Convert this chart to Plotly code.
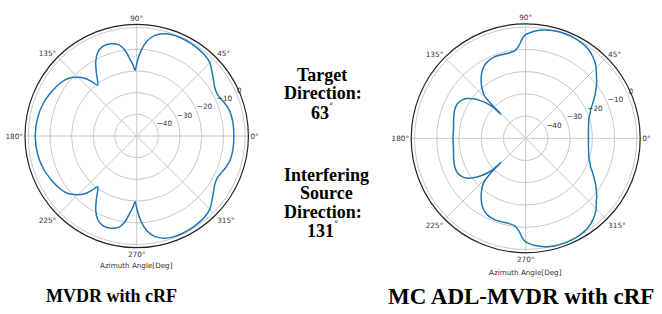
import plotly.graph_objects as go

W, H = 662, 314

# ---- MVDR with cRF (left) ----
theta_mvdr = [0, 8, 15, 20, 24, 28, 32, 36, 40, 45, 50, 55, 60, 65, 70, 75, 80, 84, 87, 89.5,
              91.5, 93, 95, 97.5, 101, 106, 111, 115, 119, 123, 127.5, 129.5, 132, 135.5, 140, 145, 152, 160, 169, 180,
              191, 200, 208, 215, 220, 224.5, 228, 230.5, 232.5, 237, 241, 245, 249, 254, 259, 262.5, 265, 267, 268.5,
              270.5, 273, 276, 280, 285, 290, 295, 300, 305, 310, 315, 320, 324, 328, 332, 336, 340, 345, 352, 360]
gain_mvdr = [-5.2, -5.2, -5.6, -6.6, -7.6, -8.1, -7.6, -6.2, -4.6, -2.3, -1.3, -0.8, -0.5, -0.4, -0.5, -1.2, -3.0, -6.2, -10.5, -15.5,
             -19.8, -17.0, -14.5, -10.5, -7.2, -5.8, -5.9, -7.5, -11.0, -16.0, -20.5, -17.5, -14.2, -11.4, -8.7, -7.2, -5.9, -4.5, -3.6, -3.2,
             -3.6, -4.5, -5.9, -7.2, -8.7, -11.4, -14.2, -17.5, -20.5, -16.0, -11.0, -7.5, -5.9, -5.8, -7.2, -10.5, -14.5, -17.0, -19.8,
             -15.5, -10.5, -6.2, -3.0, -1.2, -0.5, -0.4, -0.5, -0.8, -1.3, -2.3, -4.6, -6.2, -7.6, -8.1, -7.6, -6.6, -5.6, -5.2, -5.2]

# ---- MC ADL-MVDR with cRF (right) ----
theta_adl = [0, 10, 17, 21, 24, 27, 30, 34, 38, 42, 46, 50, 55, 60, 65, 70, 75, 80, 85, 88,
             90, 92, 94, 97, 101, 106, 111, 116, 120, 124, 128, 131, 133.5, 135, 135.8, 136.6, 138, 140, 143, 146,
             149, 153, 158, 164, 172, 180,
             188, 196, 202, 207, 211, 214, 217, 220, 222, 223.4, 224.2, 225, 226.5, 229, 232, 236, 240, 244, 249, 254,
             259, 263, 266, 268, 270, 272, 275, 280, 285, 290, 295, 300, 305, 310, 314, 318, 322, 326, 330, 333,
             336, 339, 343, 350, 360]
gain_adl = [-21.8, -21.3, -20.3, -19.0, -18.0, -16.3, -14.5, -12.0, -9.5, -7.2, -4.6, -2.7, -1.0, -0.2, 0.2, 0.3, 0.1, -0.5, -1.6, -2.6,
            -3.4, -5.2, -8.0, -10.3, -10.9, -10.9, -10.8, -11.4, -12.5, -14.6, -17.4, -20.0, -22.5, -27.0, -34.5, -29.0, -26.5, -23.8, -20.5, -18.0,
            -16.6, -15.6, -15.6, -16.3, -17.2, -17.3,
            -17.2, -16.3, -15.6, -15.6, -16.6, -18.0, -20.5, -23.8, -26.5, -29.0, -34.5, -27.0, -22.5, -20.0, -17.4, -14.6, -12.5, -11.4, -10.8, -10.9,
            -10.9, -10.3, -8.0, -5.2, -3.4, -2.6, -1.6, -0.5, 0.1, 0.3, 0.2, -0.2, -1.0, -2.7, -4.6, -7.2, -9.5, -12.0, -14.5, -16.3,
            -18.0, -19.0, -20.3, -21.3, -21.8]

angle_ticks = [0, 45, 90, 135, 180, 225, 270, 315]
angle_labels = ["0°", "45°", "90°", "135°", "180°", "225°", "270°", "315°"]
radial_ticks = [-40, -30, -20, -10, 0]
radial_labels = ["−40", "−30", "−20", "−10", "0"]
radial_label_angle = 22.5

LINE = "#1f77b4"
GRID = "#c8c8c8"
TXT = "#333333"
TICKF = dict(family="DejaVu Sans", size=7.3, color=TXT)

fig = go.Figure()
fig.add_trace(go.Scatterpolar(r=gain_mvdr, theta=theta_mvdr, mode="lines",
                              line=dict(color=LINE, width=1.5, shape="spline", smoothing=0.8),
                              subplot="polar", showlegend=False, hoverinfo="skip"))
fig.add_trace(go.Scatterpolar(r=gain_adl, theta=theta_adl, mode="lines",
                              line=dict(color=LINE, width=1.5, shape="spline", smoothing=0.8),
                              subplot="polar2", showlegend=False, hoverinfo="skip"))
# radial tick labels, matplotlib style (start at the ring, slightly above the ray)
for sp in ("polar", "polar2"):
    fig.add_trace(go.Scatterpolar(r=radial_ticks, theta=[radial_label_angle] * len(radial_ticks),
                                  mode="text", text=radial_labels, textposition="top right",
                                  textfont=TICKF, subplot=sp, showlegend=False, hoverinfo="skip",
                                  cliponaxis=False))


def polar_layout(cx, cy, rad):
    return dict(
        domain=dict(x=[(cx - rad) / W, (cx + rad) / W], y=[1 - (cy + rad) / H, 1 - (cy - rad) / H]),
        bgcolor="white",
        angularaxis=dict(rotation=0, direction="counterclockwise", tickmode="array",
                         tickvals=angle_ticks, ticktext=angle_labels, showline=True,
                         linecolor="#222222", linewidth=1.2, gridcolor=GRID, gridwidth=0.8,
                         ticks="", tickfont=TICKF),
        radialaxis=dict(range=[-50, 1.5], angle=radial_label_angle, tickmode="array",
                        tickvals=radial_ticks, showticklabels=False, showline=False,
                        gridcolor=GRID, gridwidth=0.8, ticks=""),
    )


fig.update_layout(
    width=W, height=H, margin=dict(l=0, r=0, t=0, b=0),
    paper_bgcolor="white", plot_bgcolor="white",
    polar=polar_layout(136.7, 136.0, 111.7),
    polar2=polar_layout(525.7, 138.3, 114.5),
)

ann = []


def add_text(text, px, py, size, family="Liberation Serif", color="black"):
    ann.append(dict(text=text, x=px / W, y=1 - py / H, xref="paper", yref="paper",
                    showarrow=False, xanchor="center", yanchor="middle",
                    font=dict(family=family, size=size, color=color)))


add_text("Azimuth Angle[Deg]", 136.7, 265.5, 7.2, family="DejaVu Sans", color=TXT)
add_text("Azimuth Angle[Deg]", 525.7, 272.5, 7.2, family="DejaVu Sans", color=TXT)

add_text("<b>Target</b>", 321.7, 75, 18)
add_text("<b>Direction:</b>", 322.5, 93.3, 18)
add_text("<b>63</b><sup>˚</sup>", 321.5, 111.7, 18)
add_text("<b>Interfering</b>", 326.7, 175, 18)
add_text("<b>Source</b>", 326.7, 193.3, 18)
add_text("<b>Direction:</b>", 322.5, 211.7, 18)
add_text("<b>131</b><sup>˚</sup>", 322, 230, 18)

add_text("<b>MVDR with cRF</b>", 111, 296, 18)
add_text("<b>MC ADL-MVDR with cRF</b>", 521, 296, 23)

fig.update_layout(annotations=ann)
fig.write_html("out.html", config={"displayModeBar": False},
               post_script="document.body.style.margin='0';document.body.style.overflow='hidden';")
